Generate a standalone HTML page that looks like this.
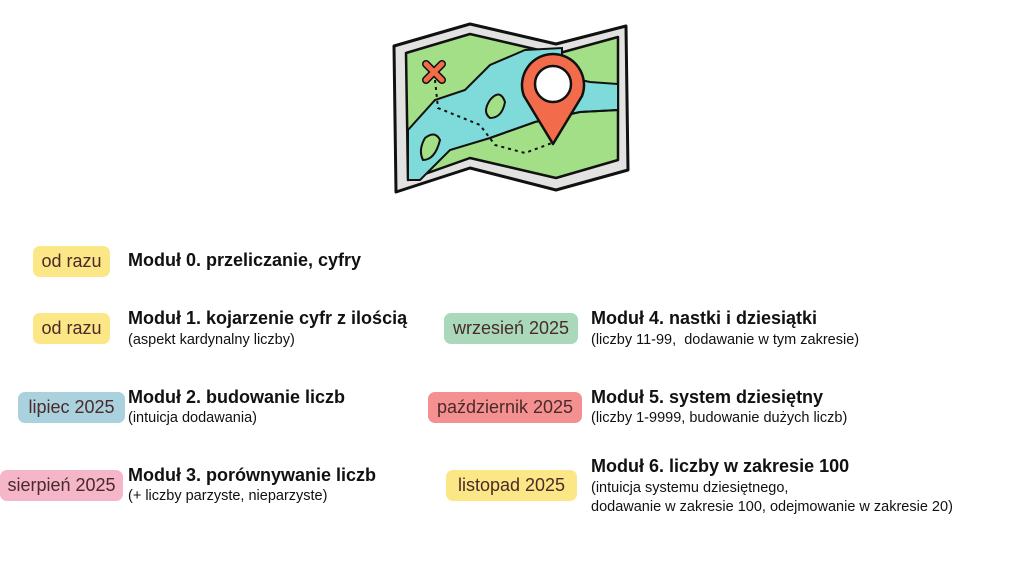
<!DOCTYPE html>
<html><head><meta charset="utf-8"><style>
body{margin:0;width:1024px;height:576px;background:#fff;position:relative;overflow:hidden;font-family:"Liberation Sans",sans-serif;color:#111}
.p{position:absolute;border-radius:7px;color:#4a2a2a;font-size:18px;display:flex;align-items:center;justify-content:center;height:31px}
.t{position:absolute;font-weight:bold;font-size:18px;white-space:nowrap}
.s{position:absolute;font-size:14.5px;white-space:nowrap;line-height:19px}
</style></head><body>
<svg style="position:absolute;left:390px;top:20px" width="250" height="175" viewBox="0 0 250 175">
<path d="M4 26 L80 4 L166 24 L236 6 L238 150 L166 170 L80 148 L6 172 Z" fill="#e2e2e0" stroke="#111" stroke-width="3" stroke-linejoin="round"/>
<path d="M16 33 L80 14 L166 34 L228 17 L228 140 L166 158 L80 138 L18 160 Z" fill="#a2df86" stroke="#111" stroke-width="2.5" stroke-linejoin="round"/>
<path d="M18 110 L45 80 L75 70 L100 45 L135 30 L172 28 L172 56 L200 62 L228 64 L228 90 L190 92 L145 102 L100 118 L60 130 L30 160 L18 160 Z" fill="#7fdbd9" stroke="#111" stroke-width="2"/>
<path d="M100 118 L145 102 L190 92 L228 90" fill="none" stroke="#111" stroke-width="2"/>
<path d="M100 80 Q110 68 115 82 Q112 98 100 98 Q92 92 100 80Z" fill="#a2df86" stroke="#111" stroke-width="2"/>
<path d="M35 118 Q45 110 50 120 Q45 140 33 140 Q28 130 35 118Z" fill="#a2df86" stroke="#111" stroke-width="2"/>
<path d="M45 60 L48 88 L90 105 L105 125 L135 133 L162 123" fill="none" stroke="#111" stroke-width="2" stroke-dasharray="3 4"/>
<path d="M36 44 L52 60 M52 44 L36 60" stroke="#111" stroke-width="8" stroke-linecap="round"/>
<path d="M36 44 L52 60 M52 44 L36 60" stroke="#f26b4a" stroke-width="5" stroke-linecap="round"/>
<path d="M163 124 L134 76 A31 31 0 1 1 192 76 Z" fill="#f26b4a" stroke="#111" stroke-width="2.5" stroke-linejoin="round"/>
<circle cx="163" cy="64" r="18" fill="#fff" stroke="#111" stroke-width="2.5"/>
</svg>
<div class="p" style="left:33px;top:246px;width:77px;background:#fbe786">od razu</div>
<div class="t" style="left:128px;top:250px">Moduł 0. przeliczanie, cyfry</div>
<div class="p" style="left:33px;top:313px;width:77px;background:#fbe786">od razu</div>
<div class="t" style="left:128px;top:308px">Moduł 1. kojarzenie cyfr z ilością</div>
<div class="s" style="left:128px;top:331px">(aspekt kardynalny liczby)</div>
<div class="p" style="left:18px;top:392px;width:107px;background:#a9d1de">lipiec 2025</div>
<div class="t" style="left:128px;top:387px">Moduł 2. budowanie liczb</div>
<div class="s" style="left:128px;top:409px">(intuicja dodawania)</div>
<div class="p" style="left:0px;top:470px;width:123px;background:#f5b6c9">sierpień 2025</div>
<div class="t" style="left:128px;top:465px">Moduł 3. porównywanie liczb</div>
<div class="s" style="left:128px;top:487px">(+ liczby parzyste, nieparzyste)</div>
<div class="p" style="left:444px;top:313px;width:134px;background:#a9d9ba">wrzesień 2025</div>
<div class="t" style="left:591px;top:308px">Moduł 4. nastki i dziesiątki</div>
<div class="s" style="left:591px;top:331px">(liczby 11-99,&nbsp; dodawanie w tym zakresie)</div>
<div class="p" style="left:428px;top:392px;width:154px;background:#f49090">październik 2025</div>
<div class="t" style="left:591px;top:387px">Moduł 5. system dziesiętny</div>
<div class="s" style="left:591px;top:409px">(liczby 1-9999, budowanie dużych liczb)</div>
<div class="p" style="left:446px;top:470px;width:131px;background:#fbe786">listopad 2025</div>
<div class="t" style="left:591px;top:456px">Moduł 6. liczby w zakresie 100</div>
<div class="s" style="left:591px;top:479px">(intuicja systemu dziesiętnego,<br>dodawanie w zakresie 100, odejmowanie w zakresie 20)</div>
</body></html>
